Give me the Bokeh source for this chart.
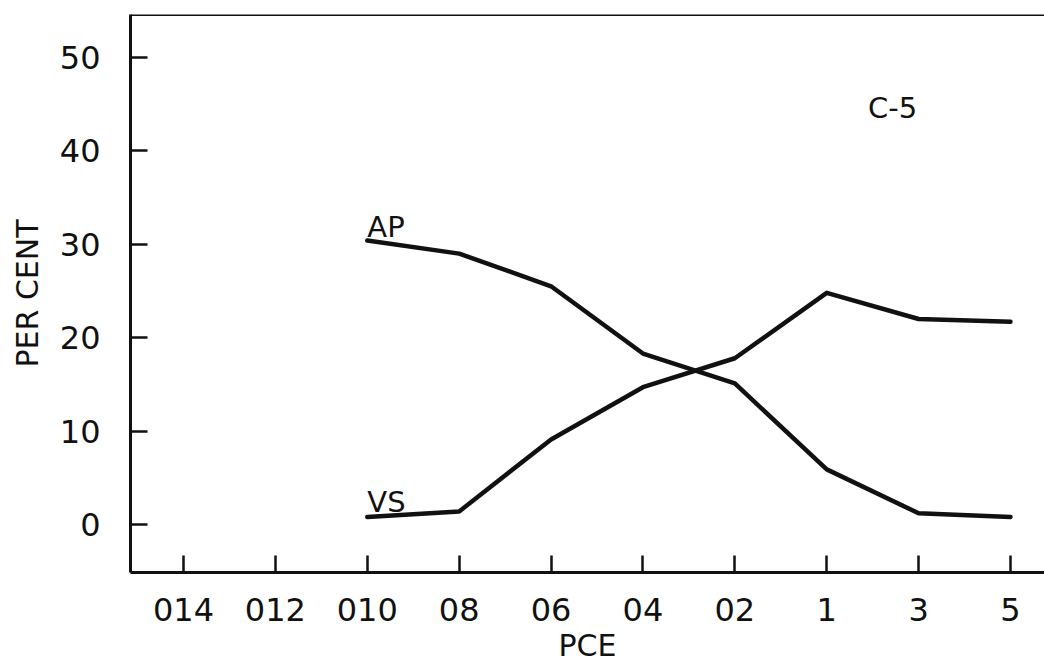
from bokeh.plotting import figure
from bokeh.models import Range1d, FixedTicker, Span
from bokeh.core.properties import value
from bokeh.embed import file_html
from bokeh.resources import INLINE

# PCE classes along the bottom axis
categories = ["014", "012", "010", "08", "06", "04", "02", "1", "3", "5"]
y_ticks = [0, 10, 20, 30, 40, 50]

# percentages per class (series start at class 010)
series_cats = ["010", "08", "06", "04", "02", "1", "3", "5"]
ap_values = [30.4, 29.0, 25.5, 18.3, 15.1, 5.9, 1.2, 0.8]
vs_values = [0.8, 1.4, 9.1, 14.7, 17.8, 24.8, 22.0, 21.7]

FONT = "DejaVu Sans"
INK = "#111111"

xpos = {c: i for i, c in enumerate(categories)}
xs = [xpos[c] for c in series_cats]

p = figure(width=1044, height=667, output_backend="svg", toolbar_location=None,
           x_range=Range1d(-0.577, 9.37), y_range=Range1d(-5.14, 54.6),
           min_border_left=130, min_border_right=0, min_border_top=14,
           min_border_bottom=95)

p.outline_line_color = None
p.grid.visible = False
p.background_fill_color = "white"
p.border_fill_color = "white"

# axes
p.xaxis.ticker = FixedTicker(ticks=list(range(len(categories))))
p.xaxis.major_label_overrides = {i: c for i, c in enumerate(categories)}
p.yaxis.ticker = FixedTicker(ticks=y_ticks)

for ax in (p.xaxis[0], p.yaxis[0]):
    ax.axis_line_width = 3
    ax.axis_line_color = INK
    ax.major_tick_in = 17
    ax.major_tick_out = 0
    ax.major_tick_line_width = 2.5
    ax.major_tick_line_color = INK
    ax.minor_tick_line_color = None
    ax.major_label_text_font = FONT
    ax.major_label_text_font_size = "32px"
    ax.major_label_text_color = INK
    ax.axis_label_text_font = FONT
    ax.axis_label_text_font_size = "30px"
    ax.axis_label_text_font_style = "normal"
    ax.axis_label_text_color = INK

p.xaxis.axis_label = "PCE"
p.xaxis.major_label_standoff = 25
p.xaxis.axis_label_standoff = 4
p.yaxis.axis_label = "PER CENT"
p.yaxis.major_label_standoff = 30
p.yaxis.axis_label_standoff = 12

# top edge of the frame
p.add_layout(Span(location=54.6, dimension="width", line_color=INK, line_width=3))

# curves
p.line(xs, ap_values, line_color=INK, line_width=4.5, line_join="round", line_cap="round")
p.line(xs, vs_values, line_color=INK, line_width=4.5, line_join="round", line_cap="round")

# curve names and panel tag
p.text(x=[xpos["010"], xpos["010"], 7.45], y=[31.9, 2.36, 44.6], text=["AP", "VS", "C-5"],
       text_font=value(FONT), text_font_size="29px", text_color=INK,
       text_align="left", text_baseline="alphabetic")

open("out.html", "w").write(file_html(p, INLINE))
